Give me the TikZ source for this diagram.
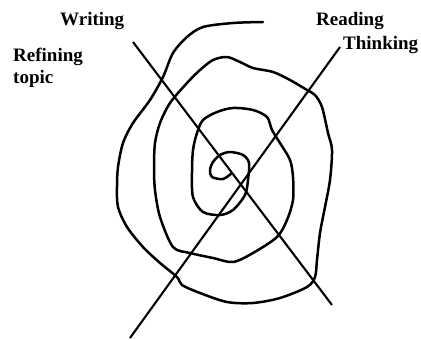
\documentclass[tikz,border=0pt]{standalone}
\usepackage{fontspec}
\setmainfont{Liberation Serif}

\begin{document}
\begin{tikzpicture}[x=1pt,y=-1pt]
\tikzset{label text/.style={anchor=base west, inner sep=0pt, font=\fontsize{19}{21}\selectfont\bfseries}}
\useasboundingbox (0,0) rectangle (421,340);
\coordinate (wtop) at (133,42);
\coordinate (wbot) at (332,305);
\coordinate (ttop) at (340,47);
\coordinate (tbot) at (130,338);
\draw[black, line width=2.1pt] (wtop) -- (wbot);
\draw[black, line width=2.1pt] (ttop) -- (tbot);
\draw[black, line width=2.5pt, line cap=round, line join=round] plot[smooth, tension=0.5] coordinates {
(263,22) (233,23) (203,27) (187,37) (173,53) (163,77) (150,100) (133,123) (123,143) (118,167) (117,187) (118,207) (127,227) (143,247) (160,263) (177,277) (182,285) (200,293) (227,302) (253,303) (280,298) (307,287) (315,277) (317,260) (320,233) (325,207) (330,180) (332,150) (328,133) (322,107) (315,95) (307,90) (290,80) (273,72) (253,68) (240,62) (227,57) (213,60) (200,70) (187,83) (170,103) (160,123) (155,143) (154,167) (155,190) (160,217) (173,247) (190,253) (213,258) (233,262) (253,253) (277,237) (287,220) (293,200) (293,177) (290,160) (280,143) (272,130) (267,117) (253,110) (233,108) (217,112) (203,120) (197,133) (193,150) (192,173) (193,197) (203,212) (220,215) (233,210) (245,195) (248,180) (249,163) (243,155) (230,152) (220,155) (213,162) (210,170) (212,177) (223,179) (232,173)};
\node[label text] (writing) at (60,26) {Writing};
\node[label text] (reading) at (316,25) {Reading};
\node[label text] (thinking) at (343,49) {Thinking};
\node[label text] (refining) at (13,61) {Refining};
\node[label text] (topic) at (13,83) {topic};
\end{tikzpicture}
\end{document}
